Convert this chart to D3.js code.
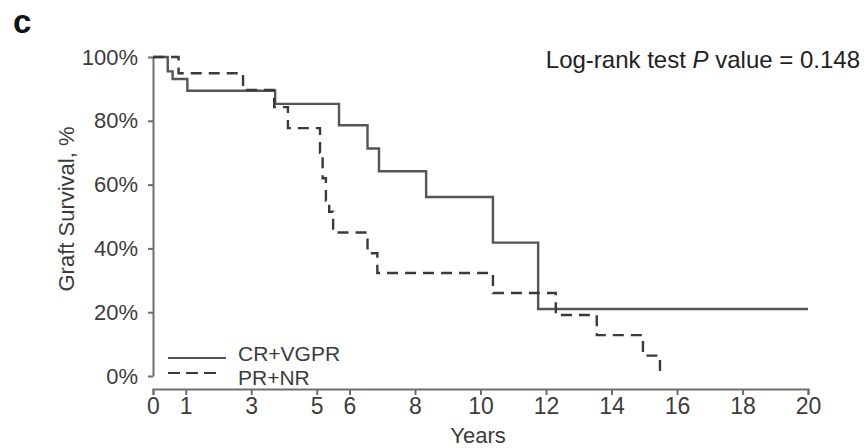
<!DOCTYPE html>
<html>
<head>
<meta charset="utf-8">
<script src="https://cdn.jsdelivr.net/npm/d3@7"></script>
<style>
  html, body { margin: 0; padding: 0; background: #fff; }
  svg { display: block; font-family: Arial, "Liberation Sans", sans-serif; }
</style>
</head>
<body>
<svg id="chart" width="865" height="448"></svg>
<script>
// Kaplan–Meier graft survival by response group (years, % surviving)
const cvTimes = [0, 0.45, 0.6, 1.05, 3.73, 5.68, 6.55, 6.9, 8.34, 10.38, 11.76, 20];
const cvSurv  = [100, 95.5, 93.1, 89.4, 85.3, 78.6, 71.3, 64.2, 56.1, 41.8, 21.0, 21.0];

const pnTimes = [0, 0.78, 2.75, 3.7, 4.12, 5.1, 5.18, 5.28, 5.38, 5.5, 6.55, 6.85, 10.38, 12.3, 13.55, 14.96, 15.48];
const pnSurv  = [100, 94.9, 89.7, 84.3, 77.7, 70, 62, 55, 51.5, 45, 38.5, 32.3, 26, 19.1, 12.8, 6.4, 0];

const xTicks = [0, 1, 3, 5, 6, 8, 10, 12, 14, 16, 18, 20];
const yTicks = [0, 20, 40, 60, 80, 100];

const seriesNames = ["CR+VGPR", "PR+NR"];
const pValueText = "0.148";

const svg = d3.select("#chart");
const ink = "#3c3c3c";
const axisInk = "#6e6e6e";
const curveInk = "#555";

const x = d3.scaleLinear().domain([0, 20]).range([153, 808]);
const y = d3.scaleLinear().domain([0, 100]).range([376, 57]);

// panel letter
svg.append("text")
  .attr("x", 13).attr("y", 33)
  .attr("font-size", 33).attr("font-weight", "bold").attr("fill", "#111")
  .text("c");

// y axis
const yAxis = svg.append("g").attr("transform", "translate(153,0)")
  .call(d3.axisLeft(y).tickValues(yTicks).tickSize(5).tickSizeOuter(0)
    .tickFormat(d => d + "%"));
yAxis.select(".domain").attr("stroke", axisInk).attr("stroke-width", 2);
yAxis.selectAll(".tick line").attr("stroke", axisInk).attr("stroke-width", 2);
yAxis.selectAll(".tick text").attr("font-size", 22).attr("fill", ink)
  .attr("font-family", "Arial, 'Liberation Sans', sans-serif").attr("x", -15);

// x axis
const xAxis = svg.append("g").attr("transform", "translate(0,389)")
  .call(d3.axisBottom(x).tickValues(xTicks).tickSize(6).tickSizeOuter(6));
xAxis.select(".domain").attr("stroke", axisInk).attr("stroke-width", 2);
xAxis.selectAll(".tick line").attr("stroke", axisInk).attr("stroke-width", 2);
xAxis.selectAll(".tick text").attr("font-size", 23).attr("fill", ink)
  .attr("font-family", "Arial, 'Liberation Sans', sans-serif").attr("y", 9);

// axis titles
svg.append("text")
  .attr("transform", "translate(74,209) rotate(-90)")
  .attr("text-anchor", "middle").attr("font-size", 22).attr("fill", ink)
  .text("Graft Survival, %");

svg.append("text")
  .attr("x", 478).attr("y", 443)
  .attr("text-anchor", "middle").attr("font-size", 22).attr("fill", ink)
  .text("Years");

// log-rank annotation
const note = svg.append("text")
  .attr("x", 860).attr("y", 68)
  .attr("text-anchor", "end").attr("font-size", 24).attr("fill", "#222");
note.append("tspan").text("Log-rank test ");
note.append("tspan").attr("font-style", "italic").text("P");
note.append("tspan").text(" value = " + pValueText);

// survival step curves
const line = d3.line().curve(d3.curveStepAfter)
  .x(d => x(d[0])).y(d => y(d[1]));

const cvData = cvTimes.map((t, i) => [t, cvSurv[i]]);
const pnData = pnTimes.map((t, i) => [t, pnSurv[i]]);

svg.append("path").datum(cvData)
  .attr("d", line).attr("fill", "none")
  .attr("stroke", curveInk).attr("stroke-width", 2.4);

svg.append("path").datum(pnData)
  .attr("d", line).attr("fill", "none")
  .attr("stroke", "#3a3a3a").attr("stroke-width", 2.4)
  .attr("stroke-dasharray", "11,7");

// legend
const legend = svg.append("g");
const styles = [
  { dash: null, stroke: curveInk, lineY: 358, textY: 361, x2: 226 },
  { dash: "12,6", stroke: "#3a3a3a", lineY: 373, textY: 385, x2: 222 }
];
seriesNames.forEach((name, i) => {
  const s = styles[i];
  legend.append("line")
    .attr("x1", 168).attr("x2", s.x2)
    .attr("y1", s.lineY).attr("y2", s.lineY)
    .attr("stroke", s.stroke).attr("stroke-width", 2.2)
    .attr("stroke-dasharray", s.dash);
  legend.append("text")
    .attr("x", 238).attr("y", s.textY)
    .attr("font-size", 21).attr("fill", ink)
    .text(name);
});
</script>
</body>
</html>
